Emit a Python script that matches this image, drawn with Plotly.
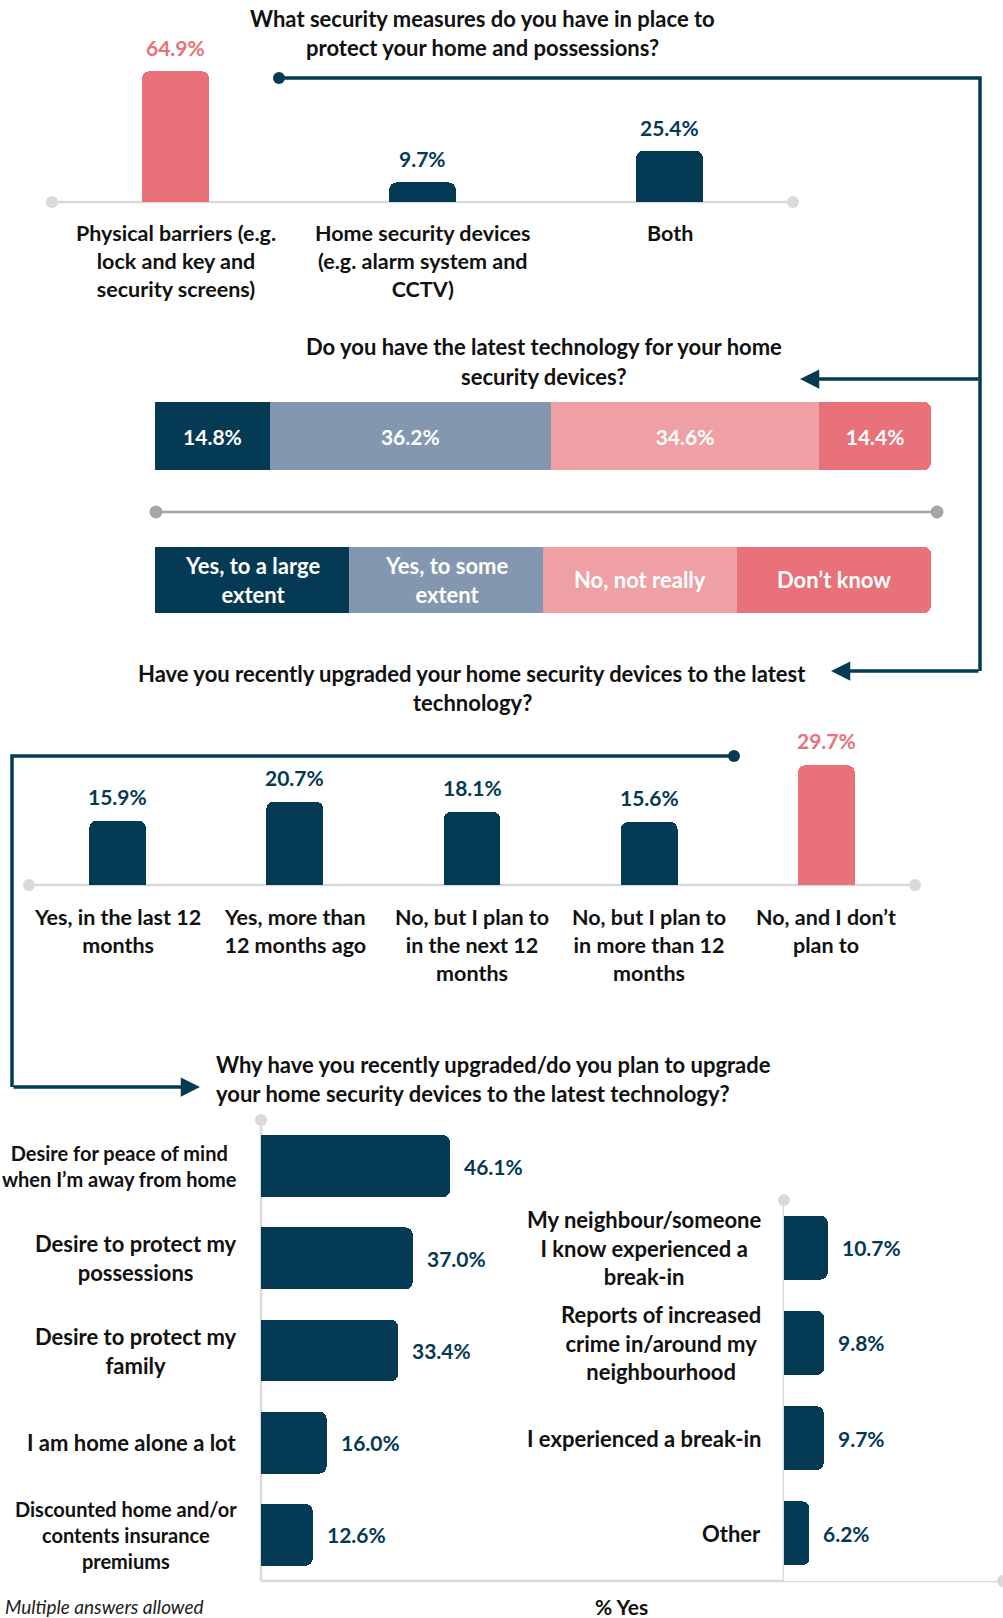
import plotly.graph_objects as go

# ---------------- DATA ----------------
q1_title = ["What security measures do you have in place to", "protect your home and possessions?"]
q1_categories = ["Physical barriers (e.g.<br>lock and key and<br>security screens)",
                 "Home security devices<br>(e.g. alarm system and<br>CCTV)",
                 "Both"]
q1_values = [64.9, 9.7, 25.4]

q2_title = ["Do you have the latest technology for your home", "security devices?"]
q2_categories = ["Yes, to a large<br>extent", "Yes, to some<br>extent", "No, not really", "Don’t know"]
q2_values = [14.8, 36.2, 34.6, 14.4]

q3_title = ["Have you recently upgraded your home security devices to the latest", "technology?"]
q3_categories = ["Yes, in the last 12<br>months", "Yes, more than<br>12 months ago",
                 "No, but I plan to<br>in the next 12<br>months", "No, but I plan to<br>in more than 12<br>months",
                 "No, and I don’t<br>plan to"]
q3_values = [15.9, 20.7, 18.1, 15.6, 29.7]

q4_title = ["Why have you recently upgraded/do you plan to upgrade",
            "your home security devices to the latest technology?"]
q4_left_categories = ["Desire for peace of mind<br>when I’m away from home", "Desire to protect my<br>possessions",
                      "Desire to protect my<br>family", "I am home alone a lot",
                      "Discounted home and/or<br>contents insurance<br>premiums"]
q4_left_values = [46.1, 37.0, 33.4, 16.0, 12.6]
q4_right_categories = ["My neighbour/someone<br>I know experienced a<br>break-in",
                       "Reports of increased<br>crime in/around my<br>neighbourhood",
                       "I experienced a break-in", "Other"]
q4_right_values = [10.7, 9.8, 9.7, 6.2]
q4_axis_title = "% Yes"
footnote = "Multiple answers allowed"

# ---------------- STYLE ----------------
W, H = 1003, 1618
NAVY = "#053A55"
PINK = "#E8717A"
LPINK = "#EFA0A5"
GREYBLUE = "#8497B0"
AXG = "#D9D9D9"
DIVG = "#A6A6A6"
TXT = "#111111"
FONT = "Lato, 'Open Sans', sans-serif"

q1_colors = [PINK, NAVY, NAVY]
q1_label_colors = [PINK, NAVY, NAVY]
q2_colors = [NAVY, GREYBLUE, LPINK, PINK]
q3_colors = [NAVY, NAVY, NAVY, NAVY, PINK]
q3_label_colors = [NAVY, NAVY, NAVY, NAVY, PINK]
q4_left_label_sizes = [20, 22, 22, 22, 20]


def PX(x):
    return x / W


def PY(y):
    return 1 - y / H


def f(size, color=TXT, bold=True):
    return dict(family=FONT, size=size, color=color, weight="bold" if bold else "normal")


fig = go.Figure()
annotations = []
shapes = []

# ---------------- Q1 ----------------
fig.add_trace(go.Bar(x=list(range(len(q1_values))), y=q1_values, width=0.27,
                     marker=dict(color=q1_colors, line=dict(width=0)),
                     xaxis="x", yaxis="y", hoverinfo="skip"))
for i, (v, c) in enumerate(zip(q1_values, q1_label_colors)):
    annotations.append(dict(x=i, y=v, xref="x", yref="y", text=f"{v:.1f}%", showarrow=False,
                            yanchor="bottom", yshift=9, font=f(21, c)))
for i, lab in enumerate(q1_categories):
    annotations.append(dict(x=i, y=PY(218), xref="x", yref="paper", text=lab, showarrow=False,
                            yanchor="top", align="center", font=f(21.5)))
for k, line in enumerate(q1_title):
    annotations.append(dict(x=PX(482), y=PY(18.6 + 29 * k), xref="paper", yref="paper", text=line,
                            showarrow=False, xanchor="center", yanchor="middle", font=f(22)))

# ---------------- Q2 ----------------
for cat, v, c in zip(q2_categories, q2_values, q2_colors):
    fig.add_trace(go.Bar(x=[v], y=[0], orientation="h", width=1, marker=dict(color=c, line=dict(width=0)),
                         text=[f"{v:.1f}%"], textposition="inside", insidetextanchor="middle",
                         textangle=0, textfont=f(21, "white"), xaxis="x2", yaxis="y2", hoverinfo="skip"))
# legend strip
for k, (cat, c) in enumerate(zip(q2_categories, q2_colors)):
    fig.add_trace(go.Bar(x=[1], y=[0], orientation="h", width=1, marker=dict(color=c, line=dict(width=0)),
                         xaxis="x3", yaxis="y3", hoverinfo="skip"))
    annotations.append(dict(x=k + 0.5, y=0, xref="x3", yref="y3", text=cat, showarrow=False,
                            align="center", font=f(22, "white")))
for k, line in enumerate(q2_title):
    annotations.append(dict(x=PX(544), y=PY(346 + 30 * k), xref="paper", yref="paper", text=line,
                            showarrow=False, xanchor="center", yanchor="middle", font=f(22)))

# ---------------- Q3 ----------------
fig.add_trace(go.Bar(x=list(range(len(q3_values))), y=q3_values, width=0.32,
                     marker=dict(color=q3_colors, line=dict(width=0)),
                     xaxis="x4", yaxis="y4", hoverinfo="skip"))
for i, (v, c) in enumerate(zip(q3_values, q3_label_colors)):
    annotations.append(dict(x=i, y=v, xref="x4", yref="y4", text=f"{v:.1f}%", showarrow=False,
                            yanchor="bottom", yshift=10, font=f(21, c)))
for i, lab in enumerate(q3_categories):
    annotations.append(dict(x=i, y=PY(902), xref="x4", yref="paper", text=lab, showarrow=False,
                            yanchor="top", align="center", font=f(21.5)))
for k, line in enumerate(q3_title):
    annotations.append(dict(x=PX(472), y=PY(673 + 29 * k), xref="paper", yref="paper", text=line,
                            showarrow=False, xanchor="center", yanchor="middle", font=f(22)))

# ---------------- Q4 ----------------
fig.add_trace(go.Bar(x=q4_left_values, y=list(range(len(q4_left_values))), orientation="h", width=0.67,
                     marker=dict(color=NAVY, line=dict(width=0)), xaxis="x5", yaxis="y5", hoverinfo="skip"))
fig.add_trace(go.Bar(x=q4_right_values, y=list(range(len(q4_right_values))), orientation="h", width=0.67,
                     marker=dict(color=NAVY, line=dict(width=0)), xaxis="x6", yaxis="y6", hoverinfo="skip"))
for i, (lab, v, sz) in enumerate(zip(q4_left_categories, q4_left_values, q4_left_label_sizes)):
    annotations.append(dict(x=PX(239), y=i, xref="paper", yref="y5", text=lab, showarrow=False,
                            xanchor="right", align="center", font=f(sz)))
    annotations.append(dict(x=v, y=i, xref="x5", yref="y5", text=f"{v:.1f}%", showarrow=False,
                            xanchor="left", xshift=12, font=f(21, NAVY)))
for i, (lab, v) in enumerate(zip(q4_right_categories, q4_right_values)):
    annotations.append(dict(x=PX(763), y=i, xref="paper", yref="y6", text=lab, showarrow=False,
                            xanchor="right", align="center", font=f(22)))
    annotations.append(dict(x=v, y=i, xref="x6", yref="y6", text=f"{v:.1f}%", showarrow=False,
                            xanchor="left", xshift=12, font=f(21, NAVY)))
for k, line in enumerate(q4_title):
    annotations.append(dict(x=PX(214), y=PY(1064 + 29 * k), xref="paper", yref="paper", text=line,
                            showarrow=False, xanchor="left", yanchor="middle", font=f(22)))
annotations.append(dict(x=PX(621), y=PY(1606), xref="paper", yref="paper", text=q4_axis_title,
                        showarrow=False, xanchor="center", yanchor="middle", font=f(21)))
annotations.append(dict(x=PX(3), y=PY(1606), xref="paper", yref="paper", text=f"<i>{footnote}</i>",
                        showarrow=False, xanchor="left", yanchor="middle", font=f(19, "#222222", bold=False)))

# ---------------- decorations ----------------
def hline(x0, x1, y, color, width):
    shapes.append(dict(type="line", xref="paper", yref="paper", x0=PX(x0), x1=PX(x1), y0=PY(y), y1=PY(y),
                       line=dict(color=color, width=width), layer="below"))


def vline(x, y0, y1, color, width):
    shapes.append(dict(type="line", xref="paper", yref="paper", x0=PX(x), x1=PX(x), y0=PY(y0), y1=PY(y1),
                       line=dict(color=color, width=width), layer="below"))


def dot(x, y, r, color):
    shapes.append(dict(type="circle", xref="paper", yref="paper", x0=PX(x - r), x1=PX(x + r),
                       y0=PY(y + r), y1=PY(y - r), fillcolor=color, line=dict(width=0)))


# chart axes
hline(52, 793, 202, AXG, 2.5); dot(52, 202, 6, AXG); dot(793, 202, 6, AXG)
hline(156, 937, 512, DIVG, 2.5); dot(156, 512, 6.5, DIVG); dot(937, 512, 6.5, DIVG)
hline(29, 915, 885, AXG, 2.5); dot(29, 885, 6, AXG); dot(915, 885, 6, AXG)
vline(261, 1120, 1581, AXG, 2.5); dot(261, 1120, 6, AXG)
vline(784, 1200, 1581, AXG, 2.5); dot(784, 1200, 6, AXG)
hline(261, 1003, 1581, AXG, 2.5); dot(1003, 1581, 6, AXG)


def path(points, color=NAVY, width=3.5):
    d = "M " + " L ".join(f"{PX(x):.5f},{PY(y):.5f}" for x, y in points)
    shapes.append(dict(type="path", xref="paper", yref="paper", path=d, line=dict(color=color, width=width)))


path([(279, 78), (980, 78), (980, 671)])
dot(279, 78, 6, NAVY)
path([(734, 756), (12, 756), (12, 1087)])
dot(734, 756, 6, NAVY)


def arrow(xh, yh, xt, yt):
    annotations.append(dict(x=PX(xh), y=PY(yh), xref="paper", yref="paper", ax=xt - xh, ay=yt - yh,
                            text="", showarrow=True, arrowhead=2, arrowsize=1.1, arrowwidth=3.5,
                            arrowcolor=NAVY, standoff=0, startstandoff=0))


arrow(800, 379, 980, 379)
arrow(831, 671, 980, 671)
arrow(200, 1087, 12, 1087)

hidden = dict(visible=False, fixedrange=True)
fig.update_layout(
    width=W, height=H, margin=dict(l=0, r=0, t=0, b=0),
    paper_bgcolor="white", plot_bgcolor="white", showlegend=False,
    barmode="stack", barcornerradius=7,
    xaxis=dict(domain=[PX(52), PX(793)], range=[-0.5, 2.5], **hidden),
    yaxis=dict(domain=[PY(202), PY(61)], range=[0, 70], **hidden),
    xaxis2=dict(domain=[PX(155), PX(931)], range=[0, 100], **hidden),
    yaxis2=dict(domain=[PY(470), PY(402)], range=[-0.5, 0.5], **hidden),
    xaxis3=dict(domain=[PX(155), PX(931)], range=[0, 4], **hidden),
    yaxis3=dict(domain=[PY(613), PY(547)], range=[-0.5, 0.5], **hidden),
    xaxis4=dict(domain=[PX(29), PX(915)], range=[-0.5, 4.5], **hidden),
    yaxis4=dict(domain=[PY(885), PY(756)], range=[0, 32], **hidden),
    xaxis5=dict(domain=[PX(261), 1.0], range=[0, 742 / 4.1], **hidden),
    yaxis5=dict(domain=[PY(1581), PY(1120)], range=[4.5, -0.5], **hidden),
    xaxis6=dict(domain=[PX(784), 1.0], range=[0, 219 / 4.1], **hidden),
    yaxis6=dict(domain=[PY(1581), PY(1200)], range=[3.5, -0.5], **hidden),
    annotations=annotations, shapes=shapes,
)

fig.write_html("out.html", config={"displayModeBar": False},
               post_script="document.body.style.margin='0px';document.body.style.overflow='hidden';")
